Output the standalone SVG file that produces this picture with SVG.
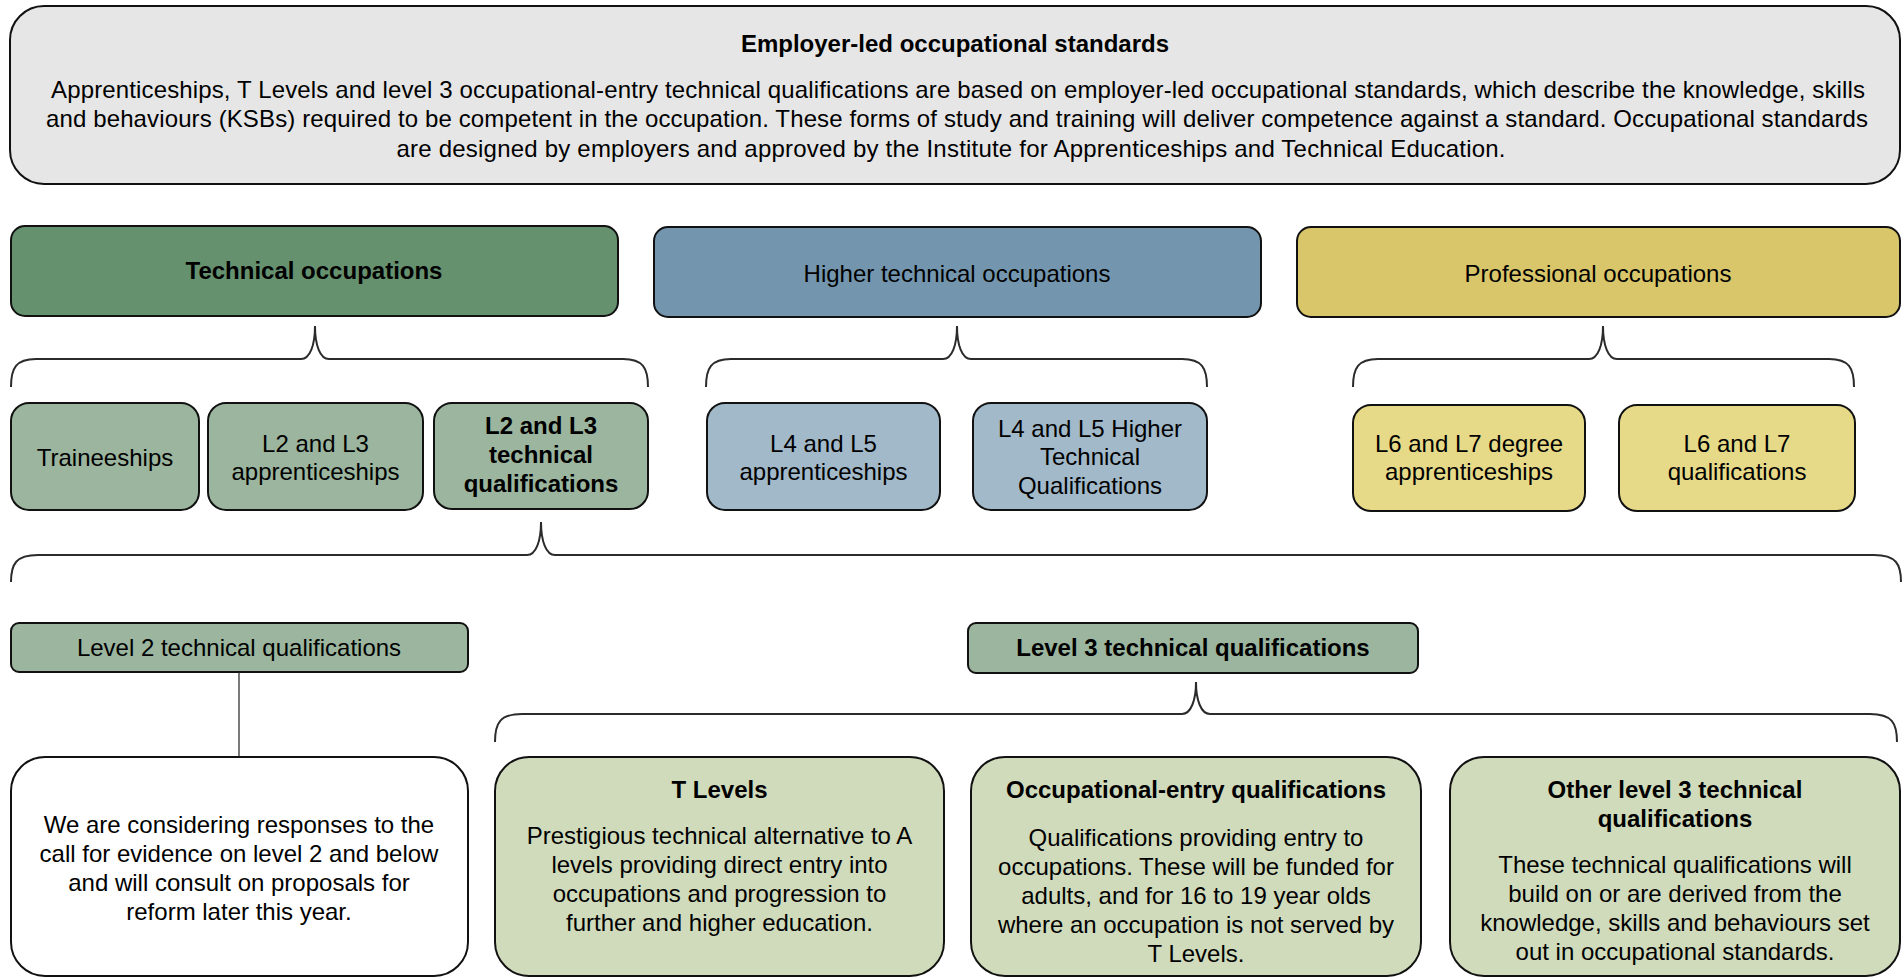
<svg xmlns="http://www.w3.org/2000/svg" width="1903" height="978" viewBox="0 0 1903 978">
<style>
  text { font-family: "Liberation Sans", Arial, sans-serif; font-size: 24px; fill: #000; text-anchor: middle; }
  .b { font-weight: bold; }
  .box { stroke: #111; stroke-width: 2; }
  .brace { fill: none; stroke: #2b2b2b; stroke-width: 2; }
  .line { stroke: #222; stroke-width: 1.2; fill: none; }
  .gray { fill: #e6e6e6; }
  .tech { fill: #66916f; }
  .higher { fill: #7396ae; }
  .prof { fill: #d9c66a; }
  .sage { fill: #9bb59e; }
  .lblue { fill: #a2b9ca; }
  .lyellow { fill: #e6da88; }
  .pale { fill: #d0dbbc; }
  .white { fill: #ffffff; }
</style>

<g id="employer-standards">
  <rect class="box gray" x="10" y="6" width="1890" height="178" rx="34" ry="34"/>
  <text class="b" x="955" y="52">Employer-led occupational standards</text>
  <text x="958" y="98" textLength="1814" lengthAdjust="spacing">Apprenticeships, T Levels and level 3 occupational-entry technical qualifications are based on employer-led occupational standards, which describe the knowledge, skills</text>
  <text x="957" y="127" textLength="1822" lengthAdjust="spacing">and behaviours (KSBs) required to be competent in the occupation. These forms of study and training will deliver competence against a standard. Occupational standards</text>
  <text x="951" y="157" textLength="1109" lengthAdjust="spacing">are designed by employers and approved by the Institute for Apprenticeships and Technical Education.</text>
</g>

<g id="technical-occupations">
  <rect class="box tech" x="11" y="226" width="607" height="90" rx="14" ry="14"/>
  <text class="b" x="314" y="279">Technical occupations</text>
</g>
<g id="higher-technical-occupations">
  <rect class="box higher" x="654" y="227" width="607" height="90" rx="14" ry="14"/>
  <text x="957" y="282">Higher technical occupations</text>
</g>
<g id="professional-occupations">
  <rect class="box prof" x="1297" y="227" width="603" height="90" rx="14" ry="14"/>
  <text x="1598" y="282">Professional occupations</text>
</g>

<g id="traineeships">
  <rect class="box sage" x="11" y="403" width="188" height="107" rx="18" ry="18"/>
  <text x="105" y="466">Traineeships</text>
</g>
<g id="l2-l3-apprenticeships">
  <rect class="box sage" x="208" y="403" width="215" height="107" rx="18" ry="18"/>
  <text x="315.5" y="452">L2 and L3</text>
  <text x="315.5" y="480">apprenticeships</text>
</g>
<g id="l2-l3-technical-qualifications">
  <rect class="box sage" x="434" y="403" width="214" height="106" rx="18" ry="18"/>
  <text class="b" x="541" y="434">L2 and L3</text>
  <text class="b" x="541" y="463">technical</text>
  <text class="b" x="541" y="492">qualifications</text>
</g>
<g id="l4-l5-apprenticeships">
  <rect class="box lblue" x="707" y="403" width="233" height="107" rx="18" ry="18"/>
  <text x="823.5" y="452">L4 and L5</text>
  <text x="823.5" y="480">apprenticeships</text>
</g>
<g id="l4-l5-htq">
  <rect class="box lblue" x="973" y="403" width="234" height="107" rx="18" ry="18"/>
  <text x="1090" y="437">L4 and L5 Higher</text>
  <text x="1090" y="465">Technical</text>
  <text x="1090" y="494">Qualifications</text>
</g>
<g id="l6-l7-degree-apprenticeships">
  <rect class="box lyellow" x="1353" y="405" width="232" height="106" rx="18" ry="18"/>
  <text x="1469" y="452">L6 and L7 degree</text>
  <text x="1469" y="480">apprenticeships</text>
</g>
<g id="l6-l7-qualifications">
  <rect class="box lyellow" x="1619" y="405" width="236" height="106" rx="18" ry="18"/>
  <text x="1737" y="452">L6 and L7</text>
  <text x="1737" y="480">qualifications</text>
</g>

<g id="level2-technical-qualifications">
  <rect class="box sage" x="11" y="623" width="457" height="49" rx="8" ry="8"/>
  <text x="239" y="656">Level 2 technical qualifications</text>
</g>
<g id="level3-technical-qualifications">
  <rect class="box sage" x="968" y="623" width="450" height="50" rx="8" ry="8"/>
  <text class="b" x="1193" y="656">Level 3 technical qualifications</text>
</g>

<g id="level2-note">
  <rect class="box white" x="11" y="757" width="457" height="219" rx="34" ry="34"/>
  <text x="239" y="833">We are considering responses to the</text>
  <text x="239" y="862">call for evidence on level 2 and below</text>
  <text x="239" y="891">and will consult on proposals for</text>
  <text x="239" y="920">reform later this year.</text>
</g>
<g id="t-levels">
  <rect class="box pale" x="495" y="757" width="449" height="219" rx="34" ry="34"/>
  <text class="b" x="719.5" y="798">T Levels</text>
  <text x="719.5" y="844">Prestigious technical alternative to A</text>
  <text x="719.5" y="873">levels providing direct entry into</text>
  <text x="719.5" y="902">occupations and progression to</text>
  <text x="719.5" y="931">further and higher education.</text>
</g>
<g id="occupational-entry">
  <rect class="box pale" x="971" y="757" width="450" height="219" rx="34" ry="34"/>
  <text class="b" x="1196" y="798">Occupational-entry qualifications</text>
  <text x="1196" y="846">Qualifications providing entry to</text>
  <text x="1196" y="875">occupations. These will be funded for</text>
  <text x="1196" y="904">adults, and for 16 to 19 year olds</text>
  <text x="1196" y="933">where an occupation is not served by</text>
  <text x="1196" y="962">T Levels.</text>
</g>
<g id="other-level3">
  <rect class="box pale" x="1450" y="757" width="450" height="219" rx="34" ry="34"/>
  <text class="b" x="1675" y="798">Other level 3 technical</text>
  <text class="b" x="1675" y="827">qualifications</text>
  <text x="1675" y="873">These technical qualifications will</text>
  <text x="1675" y="902">build on or are derived from the</text>
  <text x="1675" y="931">knowledge, skills and behaviours set</text>
  <text x="1675" y="960">out in occupational standards.</text>
</g>

<g id="connectors">
  <path class="brace" d="M11 387 C11 368 16 359 36 359 L301 359 C310 359 315 345 315 326 C315 345 320 359 329 359 L623 359 C643 359 648 368 648 387"/>
  <path class="brace" d="M706 387 C706 368 711 359 731 359 L943 359 C952 359 957 345 957 326 C957 345 962 359 971 359 L1182 359 C1202 359 1207 368 1207 387"/>
  <path class="brace" d="M1353 387 C1353 368 1358 359 1378 359 L1589 359 C1598 359 1603 345 1603 326 C1603 345 1608 359 1617 359 L1829 359 C1849 359 1854 368 1854 387"/>
  <path class="brace" d="M11 582 C11 564 16 555 38 555 L527 555 C536 555 541 541 541 522 C541 541 546 555 555 555 L1874 555 C1896 555 1901 564 1901 582"/>
  <path class="brace" d="M495 742 C495 723 500 714 522 714 L1182 714 C1191 714 1196 700 1196 682 C1196 700 1201 714 1210 714 L1870 714 C1892 714 1897 723 1897 742"/>
  <line class="line" x1="239" y1="672" x2="239" y2="757"/>
</g>
</svg>
